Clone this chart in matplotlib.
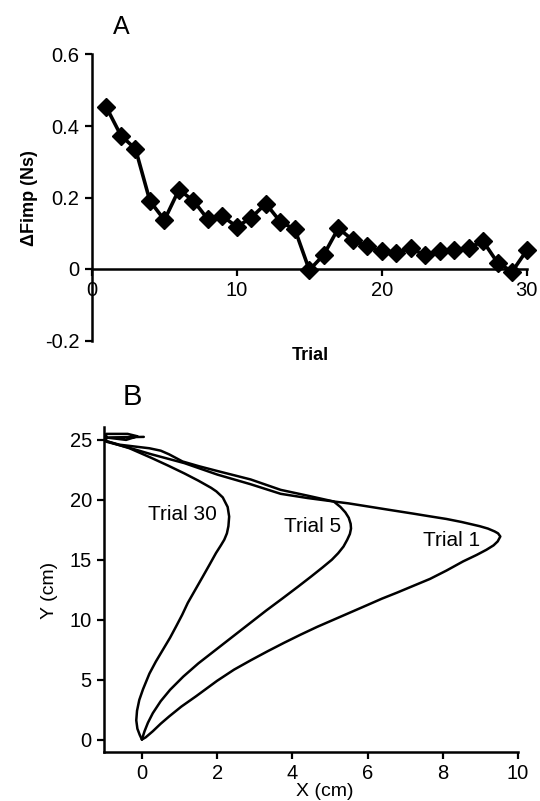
import matplotlib
matplotlib.use("Agg")
import matplotlib.pyplot as plt

plt.rcParams['font.family'] = ['Liberation Sans', 'DejaVu Sans']

# ---------------- Panel A data ----------------
trials = list(range(1, 31))
dfimp = [0.452, 0.373, 0.336, 0.190, 0.137, 0.222, 0.191, 0.139, 0.148, 0.118,
         0.144, 0.183, 0.132, 0.111, -0.003, 0.040, 0.114, 0.081, 0.063, 0.049,
         0.046, 0.058, 0.038, 0.049, 0.052, 0.060, 0.077, 0.017, -0.007, 0.052]
a_xticks = [0, 10, 20, 30]
a_yticks = [-0.2, 0, 0.2, 0.4, 0.6]
a_yticklabels = ['-0.2', '0', '0.2', '0.4', '0.6']

# ---------------- Panel B data (hand trajectories, cm) ----------------
t1_x = [0.0, 0.10, 0.29, 0.50, 0.73, 1.05, 1.44, 2.00, 2.45, 2.90, 3.34, 3.78,
        4.22, 4.66, 5.10, 5.54, 5.98, 6.38, 6.78, 7.20, 7.66, 8.10, 8.54, 8.90,
        9.16, 9.35, 9.46, 9.53, 9.47, 9.38, 9.20, 8.98, 8.50, 8.10, 7.60, 7.21,
        6.60, 6.00, 5.50, 5.10, 4.40, 3.69, 2.89, 2.01, 1.52, 1.08, 0.72, 0.50,
        0.20, -0.60, -0.95]
t1_y = [0.0, 0.18, 0.69, 1.32, 1.94, 2.75, 3.61, 4.90, 5.83, 6.62, 7.36, 8.07,
        8.75, 9.40, 10.00, 10.60, 11.20, 11.75, 12.25, 12.80, 13.40, 14.10, 14.86, 15.40,
        15.83, 16.20, 16.53, 16.94, 17.20, 17.36, 17.60, 17.80, 18.15, 18.40, 18.65, 18.85,
        19.15, 19.45, 19.70, 19.86, 20.35, 20.83, 21.70, 22.40, 22.80, 23.20, 23.80, 24.10,
        24.30, 24.60, 24.90]

t5_x = [0.0, 0.03, 0.07, 0.16, 0.29, 0.50, 0.75, 1.10, 1.50, 1.95, 2.40, 2.85,
        3.30, 3.75, 4.15, 4.50, 4.80, 5.05, 5.22, 5.36, 5.46, 5.53, 5.56, 5.55,
        5.50, 5.41, 5.28, 5.10, 4.40, 3.69, 2.89, 2.01, 1.13, 0.25, -0.40, -0.95]
t5_y = [0.0, 0.30, 0.69, 1.40, 2.20, 3.20, 4.15, 5.25, 6.35, 7.45, 8.55, 9.65,
        10.75, 11.80, 12.75, 13.60, 14.35, 15.00, 15.55, 16.10, 16.67, 17.15, 17.60, 18.00,
        18.50, 18.95, 19.40, 19.86, 20.15, 20.50, 21.30, 22.10, 23.06, 23.80, 24.40, 24.85]

t30_x = [0.0, -0.06, -0.12, -0.15, -0.13, -0.07, 0.03, 0.20, 0.37, 0.56, 0.75, 0.91,
         1.07, 1.22, 1.42, 1.62, 1.80, 1.97, 2.10, 2.19, 2.26, 2.30, 2.32, 2.28,
         2.15, 1.98, 1.84, 1.50, 1.13, 0.70, 0.25, -0.33, -0.95,
         -0.95, -0.38, -0.12, -0.42, -0.95, -0.95, 0.05]
t30_y = [0.0, 0.40, 0.90, 1.60, 2.40, 3.30, 4.20, 5.50, 6.50, 7.50, 8.50, 9.44,
         10.40, 11.40, 12.50, 13.60, 14.60, 15.56, 16.20, 16.67, 17.20, 17.80, 18.60, 19.40,
         20.20, 20.70, 21.00, 21.60, 22.20, 22.85, 23.50, 24.30, 24.90,
         25.50, 25.50, 25.30, 25.00, 25.20, 25.20, 25.25]

traj_labels = ['Trial 1', 'Trial 5', 'Trial 30']
label_x = [8.23, 4.53, 1.08]
label_y = [16.6, 17.8, 18.8]
b_xticks = [0, 2, 4, 6, 8, 10]
b_yticks = [0, 5, 10, 15, 20, 25]

W, H = 540, 801
fig = plt.figure(figsize=(W / 100, H / 100), dpi=100)

# ---------------- Panel A ----------------
axA = fig.add_axes([92 / W, 1 - 340.5 / H, (526.7 - 92) / W, (340.5 - 54.5) / H])
axA.plot(trials, dfimp, color='black', lw=2.6, marker='D', ms=9,
         mfc='black', mec='black', clip_on=False, zorder=3)
axA.set_xlim(0, 30)
axA.set_ylim(-0.2, 0.6)
axA.spines['top'].set_visible(False)
axA.spines['right'].set_visible(False)
axA.spines['bottom'].set_position(('data', 0))
axA.spines['left'].set_linewidth(1.8)
axA.spines['bottom'].set_linewidth(1.8)
axA.set_xticks(a_xticks)
axA.set_yticks(a_yticks)
axA.set_yticklabels(a_yticklabels)
axA.tick_params(axis='both', direction='out', length=5, width=1.6, labelsize=14.5,
                colors='black', pad=4)
axA.set_facecolor('none')
fig.text(310 / W, 1 - 355 / H, 'Trial', ha='center', va='center',
         fontsize=13, fontweight='bold')
fig.text(30 / W, 1 - 198 / H, 'ΔFimp (Ns)', ha='center', va='center',
         rotation=90, fontsize=13, fontweight='bold')
fig.text(121 / W, 1 - 27 / H, 'A', ha='center', va='center', fontsize=18)

# ---------------- Panel B ----------------
axB = fig.add_axes([104.3 / W, 1 - 751.5 / H, (518 - 104.3) / W, (751.5 - 426.7) / H])
for xs, ys in [(t1_x, t1_y), (t5_x, t5_y), (t30_x, t30_y)]:
    axB.plot(xs, ys, color='black', lw=1.8, solid_joinstyle='round',
             solid_capstyle='round', clip_on=False)
for lab, lx, ly in zip(traj_labels, label_x, label_y):
    axB.text(lx, ly, lab, ha='center', va='center', fontsize=15)
axB.set_xlim(-1, 10)
axB.set_ylim(-1, 26.1)
axB.spines['top'].set_visible(False)
axB.spines['right'].set_visible(False)
axB.spines['left'].set_linewidth(1.8)
axB.spines['bottom'].set_linewidth(1.8)
axB.set_xticks(b_xticks)
axB.set_yticks(b_yticks)
axB.tick_params(axis='both', direction='out', length=5, width=1.6, labelsize=14.5,
                colors='black', pad=4)
fig.text(50 / W, 1 - 590 / H, 'Y (cm)', ha='center', va='center',
         rotation=90, fontsize=14)
fig.text(325 / W, 1 - 792 / H, 'X (cm)', ha='center', va='center', fontsize=14)
fig.text(132 / W, 1 - 397 / H, 'B', ha='center', va='center', fontsize=21)

fig.savefig('out.png', dpi=100, facecolor='white')
